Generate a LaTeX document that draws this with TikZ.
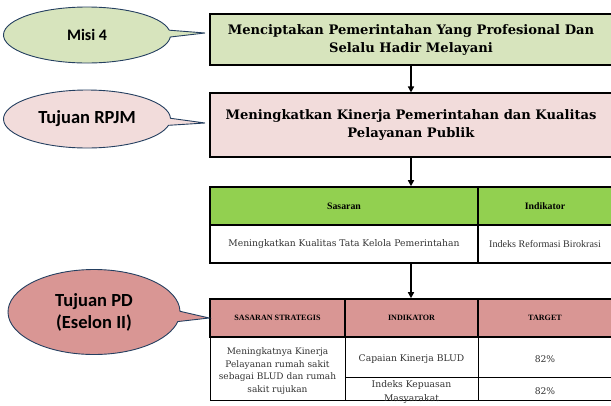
\documentclass[tikz,border=0pt]{standalone}
\usepackage{fontspec}
\setmainfont{DejaVu Serif}
\newfontfamily\calfont{Carlito}
\newfontfamily\camfont{Liberation Serif}
\usetikzlibrary{arrows.meta,positioning,calc,shapes.callouts}
\definecolor{olivelight}{RGB}{215,228,189}
\definecolor{pinklight}{RGB}{242,220,219}
\definecolor{rosedark}{RGB}{217,150,148}
\definecolor{greenhead}{RGB}{146,208,80}
\definecolor{navyline}{RGB}{36,63,96}
\definecolor{bodytext}{RGB}{50,50,50}

\begin{document}
\begin{tikzpicture}[x=1pt,y=-1pt,
    bubble/.style={ellipse callout,draw=navyline,line width=0.9pt,callout pointer arc=14,
      font=\calfont\bfseries\fontsize{18.5}{22}\selectfont,align=center,inner sep=0pt},
    box/.style={draw=black,line width=1.1pt,align=center,inner sep=0pt,
      font=\bfseries\fontsize{13.1}{18}\selectfont},
    hdr/.style={draw=black,line width=1.6pt,align=center,inner sep=0pt,minimum height=38pt},
    cell/.style={draw=black,line width=0.8pt,align=center,inner sep=0pt,text=bodytext},
    isi/.style={align=center,inner sep=0pt,text=bodytext,font=\fontsize{9.2}{14}\selectfont},
    arr/.style={-{Triangle[length=6pt,width=6pt]},line width=1.5pt}]
  \useasboundingbox (0,0) rectangle (611,405);
  % main boxes
  \node[box,fill=olivelight,minimum width=402pt,minimum height=51pt] (misi) at (411,39.5)
    {Menciptakan Pemerintahan Yang Profesional Dan\\Selalu Hadir Melayani};
  \node[box,fill=pinklight,minimum width=402pt,minimum height=64pt] (rpjm) at (411,125)
    {Meningkatkan Kinerja Pemerintahan dan Kualitas\\Pelayanan Publik};
  % table sasaran
  \node[hdr,fill=greenhead,minimum width=268pt,font=\camfont\bfseries\fontsize{9.8}{11}\selectfont] (sas) at (344,206) {Sasaran};
  \node[hdr,fill=greenhead,minimum width=134pt,font=\camfont\bfseries\fontsize{9.8}{11}\selectfont] (ind) at (545,206) {Indikator};
  \node[hdr,minimum width=268pt,text=bodytext,font=\fontsize{9.2}{10}\selectfont] (sasIsi) at (344,244)
    {Meningkatkan Kualitas Tata Kelola Pemerintahan};
  \node[hdr,minimum width=134pt,text=bodytext,font=\camfont\fontsize{10.1}{11}\selectfont] (indIsi) at (545,244)
    {Indeks Reformasi Birokrasi};
  % table eselon II
  \node[hdr,fill=rosedark,minimum width=135pt,font=\camfont\bfseries\fontsize{8.1}{9}\selectfont] (ss) at (277.5,318) {SASARAN STRATEGIS};
  \node[hdr,fill=rosedark,minimum width=133pt,font=\camfont\bfseries\fontsize{8.1}{9}\selectfont] (ik) at (411.5,318) {INDIKATOR};
  \node[hdr,fill=rosedark,minimum width=134pt,font=\camfont\bfseries\fontsize{8.1}{9}\selectfont] (tg) at (545,318) {TARGET};
  \node[cell,minimum width=135pt,minimum height=63pt] (ssIsi) at (277.5,368.5) {};
  \node[cell,minimum width=133pt,minimum height=40pt] (ikA) at (411.5,357) {};
  \node[cell,minimum width=133pt,minimum height=23pt] (ikB) at (411.5,388.5) {};
  \node[cell,minimum width=134pt,minimum height=40pt] (tgA) at (545,357) {};
  \node[cell,minimum width=134pt,minimum height=23pt] (tgB) at (545,388.5) {};
  \node[isi,font=\fontsize{9}{12.4}\selectfont] (ssTeks) at (277.5,371)
    {Meningkatnya Kinerja\\Pelayanan rumah sakit\\sebagai BLUD dan rumah\\sakit rujukan};
  \node[isi] (ikTeksA) at (411.5,359) {Capaian Kinerja BLUD};
  \node[isi] (ikTeksB) at (411.5,392.5) {Indeks Kepuasan\\Masyarakat};
  \node[isi] (tgTeksA) at (545,359) {82\%};
  \node[isi] (tgTeksB) at (545,391) {82\%};
  % callouts
  \coordinate (misiTip) at (205,33);
  \coordinate (rpjmTip) at (205,123);
  \node[bubble,fill=olivelight,minimum width=167pt,minimum height=56pt,font=\calfont\bfseries\fontsize{16}{19}\selectfont,
    callout absolute pointer={(misiTip)}] (bMisi) at (87,35) {Misi 4};
  \node[bubble,fill=pinklight,minimum width=167pt,minimum height=58pt,callout absolute pointer={(rpjmTip)}] (bRpjm) at (87,119) {Tujuan RPJM};
  \node[bubble,fill=rosedark,minimum width=172pt,minimum height=85pt,callout absolute pointer={(ss.west)}] (bPd) at (94,312) {Tujuan PD\\(Eselon II)};
  % arrows
  \draw[arr] (misi.south) -- (rpjm.north);
  \draw[arr] (rpjm.south) -- (rpjm.south |- sas.north);
  \draw[arr] (rpjm.south |- sasIsi.south) -- (rpjm.south |- ik.north);
\end{tikzpicture}
\end{document}
